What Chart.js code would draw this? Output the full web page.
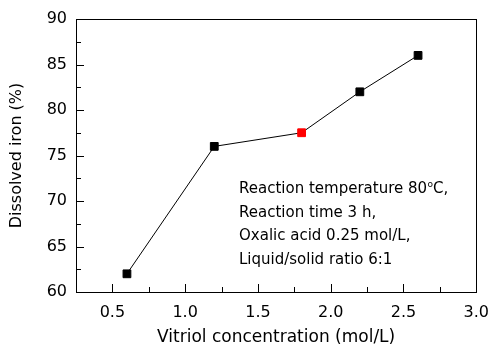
<!DOCTYPE html>
<html>
<head>
<meta charset="utf-8">
<script src="https://cdn.jsdelivr.net/npm/chart.js@4/dist/chart.umd.min.js"></script>
<style>
html,body{margin:0;padding:0;background:#fff;}
#wrap{width:500px;height:348px;}
</style>
</head>
<body>
<div id="wrap"><canvas id="c" width="500" height="348"></canvas></div>
<script>
const concentrations = [0.6, 1.2, 1.8, 2.2, 2.6];
const dissolvedIron = [62, 76, 77.5, 82, 86];
const pointColors = ['#000000', '#000000', '#ff0000', '#000000', '#000000'];
const xTicks = [0.5, 1.0, 1.5, 2.0, 2.5, 3.0];
const yTicks = [60, 65, 70, 75, 80, 85, 90];
const noteLines = ['Reaction temperature 80', 'Reaction time 3 h,', 'Oxalic acid 0.25 mol/L,', 'Liquid/solid ratio 6:1'];

const FONT = '"DejaVu Sans", sans-serif';

const framePlugin = {
  id: 'frame',
  afterDraw(chart) {
    const ctx = chart.ctx;
    const a = chart.chartArea;
    const xs = chart.scales.x, ys = chart.scales.y;
    ctx.save();
    ctx.strokeStyle = '#000';
    ctx.lineWidth = 1;
    ctx.strokeRect(Math.round(a.left) + 0.5, Math.round(a.top) + 0.5, Math.round(a.right - a.left), Math.round(a.bottom - a.top));
    ctx.beginPath();
    for (let v = 0.25; v <= 3.0001; v += 0.25) {
      const px = Math.round(xs.getPixelForValue(v)) + 0.5;
      const major = Math.abs(v * 2 - Math.round(v * 2)) < 1e-6;
      const len = major ? 8 : 5;
      ctx.moveTo(px, a.bottom);
      ctx.lineTo(px, a.bottom - len);
    }
    for (let v = 60; v <= 90.001; v += 2.5) {
      const py = Math.round(ys.getPixelForValue(v)) + 0.5;
      const major = Math.abs(v / 5 - Math.round(v / 5)) < 1e-6;
      const len = major ? 8 : 5;
      ctx.moveTo(a.left, py);
      ctx.lineTo(a.left + len, py);
    }
    ctx.stroke();

    // annotation text
    ctx.fillStyle = '#000';
    ctx.textBaseline = 'middle';
    ctx.textAlign = 'left';
    ctx.font = '15px ' + FONT;
    const x0 = 239;
    const ys0 = [189, 213, 236, 260];
    noteLines.forEach((t, i) => {
      ctx.fillText(t, x0, ys0[i]);
      if (i === 0) {
        let w = ctx.measureText(t).width;
        ctx.font = '9px ' + FONT;
        ctx.fillText('o', x0 + w + 0.5, ys0[i] - 4);
        const w2 = ctx.measureText('o').width;
        ctx.font = '15px ' + FONT;
        ctx.fillText('C,', x0 + w + 0.5 + w2, ys0[i]);
      }
    });
    ctx.restore();
  }
};

new Chart(document.getElementById('c'), {
  type: 'line',
  data: {
    datasets: [{
      data: concentrations.map((x, i) => ({x: x, y: dissolvedIron[i]})),
      borderColor: '#000',
      borderWidth: 1,
      pointStyle: 'rect',
      pointRadius: 5.5,
      pointBackgroundColor: pointColors,
      pointBorderColor: pointColors,
      pointBorderWidth: 1,
      tension: 0
    }]
  },
  options: {
    responsive: false,
    animation: false,
    events: [],
    layout: {padding: {left: 0, right: 14, top: 19, bottom: 0}},
    plugins: {legend: {display: false}, tooltip: {enabled: false}},
    scales: {
      x: {
        type: 'linear',
        min: 0.25,
        max: 3.0,
        afterBuildTicks(s) { s.ticks = xTicks.map(v => ({value: v})); },
        afterFit(s) { s.height = 56; },
        grid: {display: false, drawTicks: false},
        border: {display: false},
        ticks: {
          color: '#000',
          padding: 11,
          font: {family: FONT, size: 16},
          callback: v => v.toFixed(1)
        },
        title: {
          display: true,
          text: 'Vitriol concentration (mol/L)',
          color: '#000',
          font: {family: FONT, size: 17},
          padding: {top: 6, bottom: 0}
        }
      },
      y: {
        type: 'linear',
        min: 60,
        max: 90,
        afterBuildTicks(s) { s.ticks = yTicks.map(v => ({value: v})); },
        afterFit(s) { s.width = 76; },
        grid: {display: false, drawTicks: false},
        border: {display: false},
        ticks: {
          color: '#000',
          padding: 9,
          font: {family: FONT, size: 16},
          callback: v => String(v)
        },
        title: {
          display: true,
          text: 'Dissolved iron (%)',
          color: '#000',
          font: {family: FONT, size: 16},
          padding: {top: 7, bottom: 4}
        }
      }
    }
  },
  plugins: [framePlugin]
});
</script>
</body>
</html>
